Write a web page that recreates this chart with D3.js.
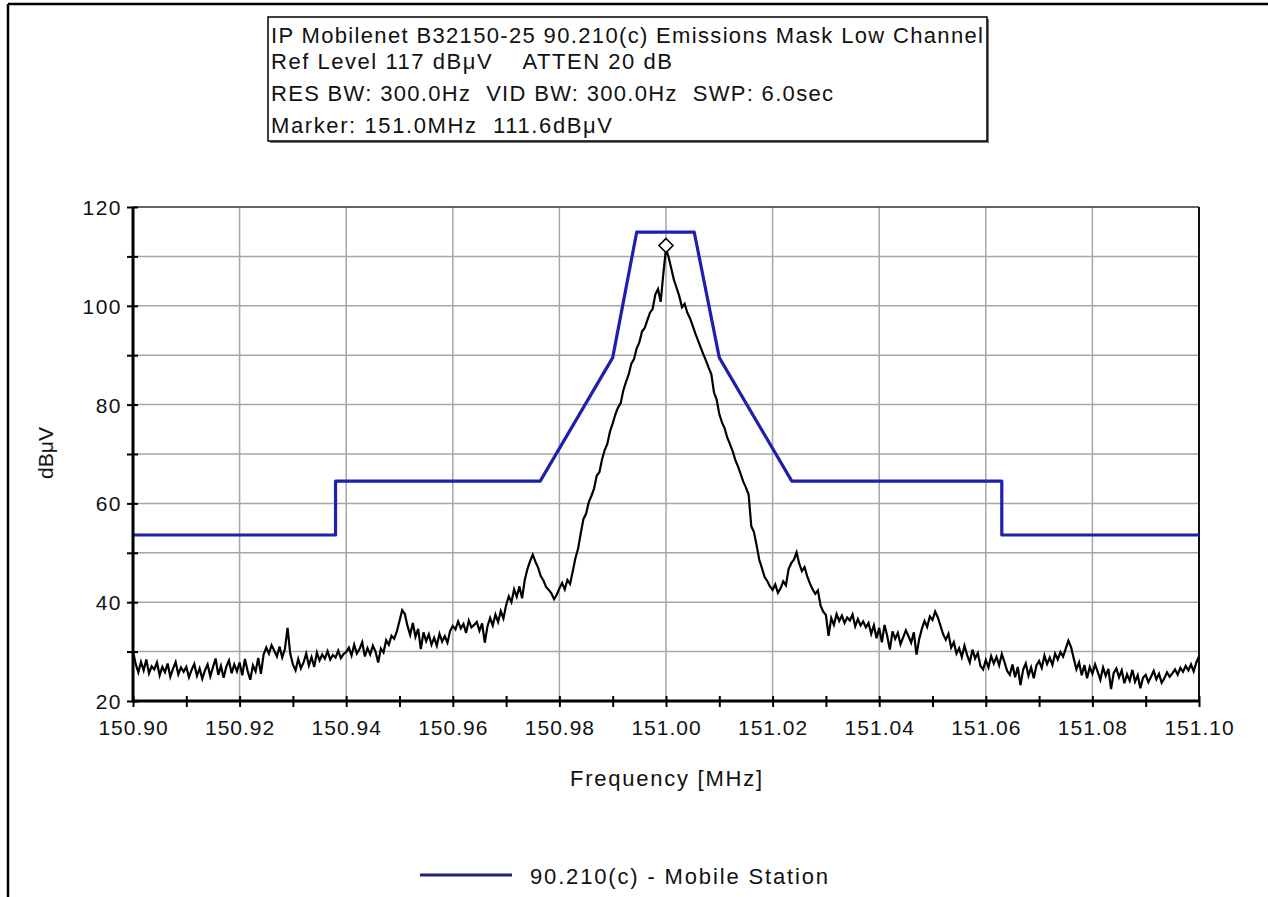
<!DOCTYPE html>
<html>
<head>
<meta charset="utf-8">
<script src="https://cdn.jsdelivr.net/npm/d3@7/dist/d3.min.js"></script>
<style>
  body { margin: 0; background: #fff; }
  text { font-family: "Liberation Sans", Arial, sans-serif; fill: #111; white-space: pre; }
</style>
</head>
<body>
<svg id="chart" width="1268" height="897"></svg>
<script>
// ---------------- DATA ----------------
const titleLines = [
  "IP Mobilenet B32150-25 90.210(c) Emissions Mask Low Channel",
  "Ref Level 117 dB\u03BCV    ATTEN 20 dB",
  "RES BW: 300.0Hz  VID BW: 300.0Hz  SWP: 6.0sec",
  "Marker: 151.0MHz  111.6dB\u03BCV"
];
const xTickLabels = ["150.90","150.92","150.94","150.96","150.98","151.00","151.02","151.04","151.06","151.08","151.10"];
const yTickLabels = [20, 40, 60, 80, 100, 120];
const xLabel = "Frequency [MHz]";
const yLabel = "dB\u03BCV";
const legendLabel = "90.210(c) - Mobile Station";

// Emissions mask (MHz, dBuV)
const maskFreq  = [150.90, 150.938, 150.938, 150.9764, 150.9900, 150.9945, 151.0053, 151.0100, 151.0236, 151.063, 151.063, 151.10];
const maskLevel = [53.6,   53.6,    64.5,    64.5,     89.5,     114.9,    114.9,    89.5,     64.5,     64.5,    53.6,    53.6];

// Measured trace: sweep from 150.90 MHz, 0.0005 MHz per point (dBuV)
const traceStart = 150.90;
const traceStep = 0.0005;
const traceValues = [
  30.0, 27.5, 25.8, 27.9, 26.2, 28.4, 25.6, 27.0, 26.4, 27.8, 25.2, 26.9, 25.8, 27.6, 24.9, 26.5, 27.9, 25.4, 26.8, 25.9,
  26.9, 24.8, 26.3, 27.5, 25.1, 26.6, 24.5, 26.2, 27.4, 25.0, 26.8, 28.6, 25.3, 27.1, 24.7, 26.9, 28.2, 25.6, 27.4, 26.0,
  27.8, 25.2, 28.5, 26.1, 24.3, 27.2, 26.0, 28.7, 25.5, 29.4, 30.8, 29.6, 31.3, 30.2, 29.0, 31.0, 28.8, 30.5, 34.8, 29.6,
  27.4, 26.2, 28.5, 26.6, 27.8, 29.6, 27.2, 28.9, 26.9, 29.8, 28.2, 29.4, 28.6, 30.1, 28.4, 29.3, 28.8, 30.2, 28.7, 29.5,
  29.9, 30.8, 29.2, 31.4, 29.6, 30.5, 31.9, 29.0, 30.7, 29.4, 31.2, 30.0, 27.8, 30.6, 29.8, 32.3, 31.4, 33.2, 32.6, 34.1,
  36.2, 38.4, 37.6, 35.2, 33.4, 35.8, 33.0, 34.6, 30.5, 33.9, 32.1, 33.5, 31.4, 32.8, 31.2, 33.6, 32.0, 33.1, 31.8, 34.2,
  35.2, 34.5, 36.1, 34.7, 35.6, 33.8, 36.3, 34.9, 35.4, 36.0, 34.2, 35.7, 31.8, 35.1, 36.8, 35.3, 37.5, 36.0, 38.2, 36.7,
  39.4, 41.2, 40.0, 42.6, 41.1, 43.2, 40.8, 44.5, 46.7, 48.3, 49.6, 48.2, 47.0, 45.3, 44.4, 43.1, 42.5, 41.8, 40.6, 41.5,
  42.8, 43.9, 42.6, 44.5, 43.7, 46.2, 48.9, 50.8, 53.9, 56.8, 57.9, 60.2, 61.5, 63.0, 65.6, 66.3, 68.9, 70.8, 72.1, 74.6,
  76.2, 78.0, 79.4, 80.3, 82.9, 84.6, 86.1, 88.3, 89.2, 91.4, 92.6, 94.8, 95.5, 97.1, 98.6, 99.4, 102.3, 103.4, 100.8, 106.5,
  111.6, 109.8, 107.5, 105.2, 103.6, 101.9, 99.7, 100.4, 98.6, 97.5, 96.0, 94.4, 93.0, 91.6, 90.2, 88.9, 87.5, 86.2, 82.5, 81.0,
  78.1, 76.4, 75.2, 73.3, 72.0, 70.6, 68.8, 67.5, 66.0, 64.4, 63.2, 61.8, 55.4, 54.2, 51.5, 48.6, 46.9, 45.1, 44.3, 43.2,
  42.5, 43.6, 41.9, 42.8, 44.2, 43.4, 46.7, 47.9, 48.6, 50.1, 47.8, 46.3, 47.1, 45.2, 43.8, 42.6, 41.7, 42.4, 39.3, 38.1,
  37.4, 33.2, 36.8, 35.4, 37.6, 36.2, 37.3, 35.8, 36.9, 36.3, 37.5, 35.1, 36.6, 35.3, 36.1, 34.9, 35.8, 33.6, 35.3, 32.7,
  34.8, 31.9, 35.4, 33.2, 30.4, 34.1, 32.6, 33.8, 31.5, 32.9, 34.3, 33.1, 31.8, 33.9, 29.4, 32.5, 34.6, 36.2, 35.0, 37.1,
  36.4, 38.1, 36.9, 35.2, 33.5, 32.4, 33.6, 30.8, 31.9, 29.6, 30.7, 28.9, 31.2, 29.3, 27.8, 30.4, 28.6, 29.7, 27.1, 26.4,
  28.3, 26.8, 29.1, 27.6, 28.9, 27.2, 29.5, 27.9, 26.1, 25.3, 27.4, 24.8, 26.9, 23.2, 26.3, 27.6, 25.1, 26.8, 24.6, 27.2,
  28.1, 26.7, 29.2, 27.5, 28.8, 27.3, 29.6, 28.4, 29.9, 29.0, 30.6, 32.2, 30.9, 28.6, 26.4, 27.8, 25.2, 27.3, 24.6, 26.9,
  25.5, 27.4, 25.9, 24.3, 26.8, 25.1, 26.5, 22.4, 25.7, 26.6, 24.8, 26.2, 23.6, 25.4, 24.1, 26.3, 23.9, 25.2, 22.6, 24.7,
  25.3, 23.8, 24.9, 26.1, 24.4, 25.5, 23.7, 24.6, 25.8, 24.9, 25.6, 26.4, 25.3, 26.7, 25.9, 27.1, 26.2, 27.4, 26.0, 27.8,
  29.0
];
const markerFreq = 151.00;
const markerLevel = 111.6;

// ---------------- DRAWING ----------------
const svg = d3.select("#chart");
const W = 1268, H = 897;
const plot = { left: 133, right: 1199, top: 207, bottom: 701 };

svg.append("rect").attr("width", W).attr("height", H).attr("fill", "#fff");

// outer frame (top + left visible)
svg.append("line").attr("x1", 8).attr("x2", W).attr("y1", 4).attr("y2", 4)
  .attr("stroke", "#000").attr("stroke-width", 2.5);
svg.append("line").attr("x1", 8).attr("x2", 8).attr("y1", 4).attr("y2", H)
  .attr("stroke", "#000").attr("stroke-width", 2.5);

const x = d3.scaleLinear().domain([150.90, 151.10]).range([plot.left, plot.right]);
const y = d3.scaleLinear().domain([20, 120]).range([plot.bottom, plot.top]);

// grid
const hGrid = d3.range(30, 120, 10);
svg.append("g").selectAll("line").data(hGrid).join("line")
  .attr("x1", plot.left).attr("x2", plot.right)
  .attr("y1", d => y(d)).attr("y2", d => y(d))
  .attr("stroke", "#a6a6a6").attr("stroke-width", 1.5);
const vGrid = xTickLabels.map(Number).slice(1, -1);
svg.append("g").selectAll("line").data(vGrid).join("line")
  .attr("x1", d => x(d)).attr("x2", d => x(d))
  .attr("y1", plot.top).attr("y2", plot.bottom)
  .attr("stroke", "#a6a6a6").attr("stroke-width", 1.5);

// top and right frame of plot
svg.append("line").attr("x1", plot.left).attr("x2", plot.right).attr("y1", y(120)).attr("y2", y(120))
  .attr("stroke", "#333").attr("stroke-width", 1.5);
svg.append("line").attr("x1", x(151.10)).attr("x2", x(151.10)).attr("y1", plot.top).attr("y2", plot.bottom)
  .attr("stroke", "#111").attr("stroke-width", 2);

// mask
const maskData = maskFreq.map((f, i) => [f, maskLevel[i]]);
const lineGen = d3.line().x(d => x(d[0])).y(d => y(d[1]));
svg.append("path").datum(maskData).attr("d", lineGen)
  .attr("fill", "none").attr("stroke", "#1f1fae").attr("stroke-width", 3.2)
  .attr("stroke-linejoin", "round");

// trace
const traceData = traceValues.map((v, i) => [traceStart + i * traceStep, v]);
svg.append("path").datum(traceData).attr("d", lineGen)
  .attr("fill", "none").attr("stroke", "#000").attr("stroke-width", 2.2)
  .attr("stroke-linejoin", "miter");

// marker diamond
const mx = x(markerFreq), my = y(markerLevel) - 3;
svg.append("path")
  .attr("d", `M${mx},${my - 7} L${mx + 7},${my} L${mx},${my + 7} L${mx - 7},${my} Z`)
  .attr("fill", "#fff").attr("stroke", "#000").attr("stroke-width", 1.6);

// axes lines
svg.append("line").attr("x1", plot.left).attr("x2", plot.left).attr("y1", plot.top).attr("y2", plot.bottom + 1)
  .attr("stroke", "#000").attr("stroke-width", 3);
svg.append("line").attr("x1", plot.left).attr("x2", plot.right + 1).attr("y1", plot.bottom).attr("y2", plot.bottom)
  .attr("stroke", "#000").attr("stroke-width", 3);

// y ticks
const yAxis = d3.axisLeft(y).tickValues(d3.range(20, 121, 10)).tickSize(6)
  .tickFormat(d => yTickLabels.includes(d) ? d : "");
const gy = svg.append("g").attr("transform", `translate(${plot.left},0)`).call(yAxis);
gy.select(".domain").remove();
gy.selectAll(".tick line").attr("x2", -6).attr("x1", 5).attr("stroke", "#000").attr("stroke-width", 2);
gy.selectAll(".tick text").attr("x", -11).attr("dy", "0.36em")
  .style("font-size", "21px").style("letter-spacing", "1.5px")
  .style("font-family", "'Liberation Sans', Arial, sans-serif").attr("fill", "#111");

// x ticks
const xAxis = d3.axisBottom(x).tickValues(d3.range(0, 21).map(i => 150.90 + i * 0.01)).tickSize(6)
  .tickFormat((d, i) => i % 2 === 0 ? xTickLabels[i / 2] : "");
const gx = svg.append("g").attr("transform", `translate(0,${plot.bottom})`).call(xAxis);
gx.select(".domain").remove();
gx.selectAll(".tick line").attr("y1", -5).attr("y2", 6).attr("stroke", "#000").attr("stroke-width", 2);
gx.selectAll(".tick text").attr("y", 26).attr("dy", "0.36em")
  .style("font-size", "21px").style("letter-spacing", "1px")
  .style("font-family", "'Liberation Sans', Arial, sans-serif").attr("fill", "#111");

// axis titles
svg.append("text").attr("x", 666).attr("y", 778).attr("dy", "0.36em")
  .attr("text-anchor", "middle").style("font-size", "22px")
  .attr("textLength", 192).attr("lengthAdjust", "spacing").text(xLabel);
svg.append("text").attr("transform", "translate(45,453) rotate(-90)").attr("dy", "0.36em")
  .attr("text-anchor", "middle").style("font-size", "21px").text(yLabel);

// title box
svg.append("rect").attr("x", 270).attr("y", 19).attr("width", 719).attr("height", 124)
  .attr("fill", "#777");
svg.append("rect").attr("x", 268).attr("y", 17).attr("width", 719).attr("height", 124)
  .attr("fill", "#fff").attr("stroke", "#000").attr("stroke-width", 1.5);
const titleBaselines = [43, 69, 101, 133];
const titleWidths = [712, 401, 562, 341];
titleLines.forEach((t, i) => {
  svg.append("text").attr("x", 271).attr("y", titleBaselines[i])
    .style("font-size", "22px").attr("textLength", titleWidths[i]).attr("lengthAdjust", "spacing")
    .text(t);
});

// legend
svg.append("line").attr("x1", 420).attr("x2", 512).attr("y1", 875).attr("y2", 875)
  .attr("stroke", "#23237a").attr("stroke-width", 3);
svg.append("text").attr("x", 530).attr("y", 876).attr("dy", "0.36em")
  .style("font-size", "22px").attr("textLength", 298).attr("lengthAdjust", "spacing")
  .text(legendLabel);
</script>
</body>
</html>
